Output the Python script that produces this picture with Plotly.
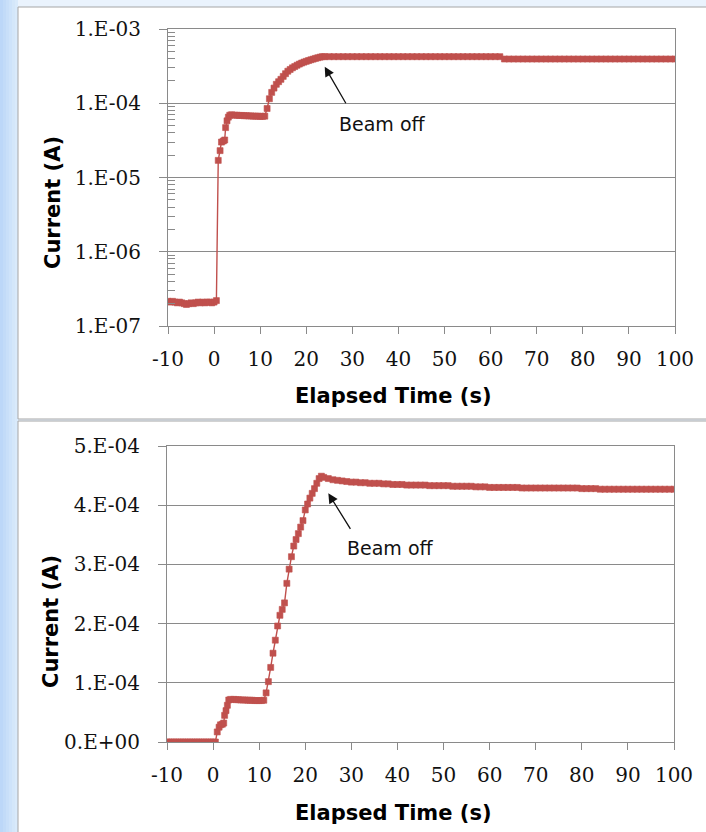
import plotly.graph_objects as go

# ---------------------------------------------------------------- data
time_s = [
    -10, -9.5, -9, -8.5, -8, -7.5, -7, -6.5, -6, -5.5, -5, -4.5, -4, -3.5, -3,
    -2.5, -2, -1.5, -1, -0.5, 0, 0.5,
    0.9, 1.3, 1.6, 2.0, 2.3, 2.5, 2.8, 3.1, 3.4, 3.8,
    4.5, 5, 5.5, 6, 6.5, 7, 7.5, 8, 8.5, 9, 9.5, 10, 10.5, 11,
    11.5, 12, 12.5, 13, 13.5, 14, 14.5, 15, 15.5, 16, 16.5, 17, 17.5, 18,
    18.5, 19, 19.5, 20, 20.5, 21, 21.5, 22, 22.5, 23, 23.5,
    24, 25, 26, 27, 28, 29, 30, 31, 32, 33, 34, 35, 36, 37, 38, 39, 40,
    41, 42, 43, 44, 45, 46, 47, 48, 49, 50, 51, 52, 53, 54, 55, 56, 57,
    58, 59, 60, 61, 62, 63, 64, 65, 66, 67, 68, 69, 70, 71, 72, 73, 74,
    75, 76, 77, 78, 79, 80, 81, 82, 83, 84, 85, 86, 87, 88, 89, 90, 91,
    92, 93, 94, 95, 96, 97, 98, 99, 100,
]

# current on the logarithmic panel (A)
current_log_A = [
    2.15e-7, 2.1e-7, 2.15e-7, 2.1e-7, 2.05e-7, 2.1e-7, 2.05e-7, 2.0e-7,
    1.95e-7, 2.0e-7, 2.05e-7, 2.0e-7, 2.05e-7, 2.1e-7, 2.05e-7, 2.1e-7,
    2.05e-7, 2.1e-7, 2.1e-7, 2.05e-7, 2.1e-7, 2.2e-7,
    1.7e-5, 2.3e-5, 3.0e-5, 3.1e-5, 3.2e-5, 4.7e-5, 5.8e-5, 6.5e-5, 6.9e-5, 7.0e-5,
    6.9e-5, 6.9e-5, 6.85e-5, 6.85e-5, 6.8e-5, 6.8e-5, 6.75e-5, 6.75e-5,
    6.7e-5, 6.7e-5, 6.7e-5, 6.65e-5, 6.65e-5, 6.7e-5,
    8.5e-5, 1.15e-4, 1.4e-4, 1.6e-4, 1.8e-4, 1.95e-4, 2.1e-4, 2.3e-4, 2.5e-4,
    2.7e-4, 2.85e-4, 3.0e-4, 3.12e-4, 3.25e-4, 3.37e-4, 3.48e-4, 3.58e-4,
    3.67e-4, 3.76e-4, 3.85e-4, 3.93e-4, 4.02e-4, 4.1e-4, 4.18e-4, 4.24e-4,
    # 24 s .. 62 s
    4.24e-4, 4.24e-4, 4.24e-4, 4.24e-4, 4.24e-4, 4.24e-4, 4.24e-4, 4.24e-4,
    4.24e-4, 4.24e-4, 4.24e-4, 4.24e-4, 4.24e-4, 4.24e-4, 4.24e-4, 4.24e-4,
    4.24e-4, 4.24e-4, 4.24e-4, 4.24e-4, 4.24e-4, 4.24e-4, 4.24e-4, 4.24e-4,
    4.24e-4, 4.24e-4, 4.24e-4, 4.24e-4, 4.24e-4, 4.24e-4, 4.24e-4, 4.24e-4,
    4.24e-4, 4.24e-4, 4.24e-4, 4.24e-4, 4.24e-4, 4.24e-4, 4.24e-4,
    # 63 s .. 100 s
    3.94e-4, 3.94e-4, 3.94e-4, 3.94e-4, 3.94e-4, 3.94e-4, 3.94e-4, 3.94e-4,
    3.94e-4, 3.94e-4, 3.94e-4, 3.94e-4, 3.94e-4, 3.94e-4, 3.94e-4, 3.94e-4,
    3.94e-4, 3.94e-4, 3.94e-4, 3.94e-4, 3.94e-4, 3.94e-4, 3.94e-4, 3.94e-4,
    3.94e-4, 3.94e-4, 3.94e-4, 3.94e-4, 3.94e-4, 3.94e-4, 3.94e-4, 3.94e-4,
    3.94e-4, 3.94e-4, 3.94e-4, 3.94e-4, 3.94e-4, 3.94e-4,
]

# current on the linear panel (A)
current_lin_A = [
    0, 0, 0, 0, 0, 0, 0, 0, 0, 0, 0, 0, 0, 0, 0, 0, 0, 0, 0, 0, 0, 0,
    1.7e-5, 2.5e-5, 2.9e-5, 3.0e-5, 3.2e-5, 4.5e-5, 5.3e-5, 6.2e-5, 7.1e-5, 7.2e-5,
    7.2e-5, 7.15e-5, 7.15e-5, 7.1e-5, 7.1e-5, 7.1e-5, 7.05e-5, 7.05e-5,
    7.05e-5, 7.0e-5, 7.0e-5, 7.0e-5, 7.0e-5, 7.05e-5,
    8.3e-5, 1.02e-4, 1.26e-4, 1.5e-4, 1.72e-4, 1.96e-4, 2.14e-4, 2.24e-4,
    2.35e-4, 2.68e-4, 2.92e-4, 3.13e-4, 3.31e-4, 3.42e-4, 3.52e-4, 3.63e-4,
    3.74e-4, 3.92e-4, 4.02e-4, 4.12e-4, 4.2e-4, 4.28e-4, 4.37e-4, 4.45e-4, 4.49e-4,
    4.47e-4, 4.45e-4, 4.43e-4, 4.42e-4, 4.41e-4, 4.40e-4, 4.39e-4, 4.39e-4,
    4.38e-4, 4.38e-4, 4.37e-4, 4.37e-4, 4.37e-4, 4.36e-4, 4.36e-4, 4.35e-4,
    4.35e-4, 4.35e-4, 4.34e-4, 4.34e-4, 4.34e-4, 4.34e-4, 4.34e-4, 4.33e-4,
    4.33e-4, 4.33e-4, 4.33e-4, 4.33e-4, 4.32e-4, 4.32e-4, 4.32e-4, 4.32e-4,
    4.32e-4, 4.31e-4, 4.31e-4, 4.31e-4, 4.30e-4, 4.30e-4, 4.30e-4, 4.30e-4,
    4.30e-4, 4.30e-4, 4.30e-4, 4.29e-4, 4.29e-4, 4.29e-4, 4.29e-4, 4.29e-4,
    4.29e-4, 4.29e-4, 4.29e-4, 4.29e-4, 4.29e-4, 4.29e-4, 4.29e-4, 4.29e-4,
    4.28e-4, 4.28e-4, 4.28e-4, 4.28e-4, 4.27e-4,
    4.27e-4, 4.27e-4, 4.27e-4, 4.27e-4, 4.27e-4, 4.27e-4, 4.27e-4, 4.27e-4,
    4.27e-4, 4.27e-4, 4.27e-4, 4.27e-4, 4.27e-4, 4.27e-4, 4.27e-4, 4.27e-4,
]

x_tick_vals = [-10, 0, 10, 20, 30, 40, 50, 60, 70, 80, 90, 100]
x_tick_text = ["-10", "0", "10", "20", "30", "40", "50", "60", "70", "80", "90", "100"]

log_tick_vals = [1e-7, 1e-6, 1e-5, 1e-4, 1e-3]
log_tick_text = ["1.E-07", "1.E-06", "1.E-05", "1.E-04", "1.E-03"]

lin_tick_vals = [0, 1e-4, 2e-4, 3e-4, 4e-4, 5e-4]
lin_tick_text = ["0.E+00", "1.E-04", "2.E-04", "3.E-04", "4.E-04", "5.E-04"]

# ---------------------------------------------------------------- styling
W, H = 706, 832
RED = "#c0504d"
GRAY = "#8a8a8a"
TICK_FONT = dict(family="DejaVu Serif", size=20, color="#111111")
TITLE_FONT = dict(family="DejaVu Sans", size=21, color="#000000", weight="bold")
NOTE_FONT = dict(family="DejaVu Sans", size=19, color="#111111")


def px(xp):
    return xp / W


def py(yp):
    return 1 - yp / H


fig = go.Figure()

series_style = dict(
    mode="lines+markers",
    line=dict(color=RED, width=1.4),
    marker=dict(color=RED, size=6, symbol="square", line=dict(width=0.6, color=RED)),
    hoverinfo="skip",
)
fig.add_trace(go.Scatter(x=time_s, y=current_log_A, xaxis="x", yaxis="y", **series_style))
fig.add_trace(go.Scatter(x=time_s, y=current_lin_A, xaxis="x2", yaxis="y2", **series_style))

common_x = dict(
    range=[-10, 100],
    tickmode="array",
    tickvals=x_tick_vals,
    ticktext=x_tick_text,
    ticks="outside",
    ticklen=7,
    tickwidth=1,
    tickcolor=GRAY,
    showline=True,
    linecolor=GRAY,
    linewidth=1,
    mirror=True,
    showgrid=False,
    zeroline=False,
    tickfont=TICK_FONT,
    ticklabelstandoff=8,
    automargin=False,
    fixedrange=True,
)
common_y = dict(
    tickmode="array",
    ticks="outside",
    ticklen=8,
    tickwidth=1,
    tickcolor=GRAY,
    showline=True,
    linecolor=GRAY,
    linewidth=1,
    mirror=True,
    showgrid=True,
    gridcolor=GRAY,
    gridwidth=1,
    zeroline=False,
    tickfont=TICK_FONT,
    ticklabelstandoff=14,
    automargin=False,
    fixedrange=True,
)

minor_log_vals = [m * 10.0 ** e for e in range(-7, -3) for m in range(2, 10)]

fig.update_layout(
    width=W,
    height=H,
    margin=dict(l=0, r=0, t=0, b=0, pad=0),
    paper_bgcolor="#eaf3fd",
    plot_bgcolor="rgba(0,0,0,0)",
    showlegend=False,
    xaxis=dict(domain=[px(168), px(675)], anchor="y", **common_x),
    yaxis=dict(
        domain=[py(326), py(29)],
        anchor="x",
        type="log",
        range=[-7, -3],
        tickvals=log_tick_vals,
        ticktext=log_tick_text,
        minor=dict(
            tickmode="array",
            tickvals=minor_log_vals,
            ticks="inside",
            ticklen=7,
            tickcolor=GRAY,
            showgrid=False,
        ),
        **common_y,
    ),
    xaxis2=dict(domain=[px(167), px(674)], anchor="y2", **common_x),
    yaxis2=dict(
        domain=[py(742), py(446)],
        anchor="x2",
        range=[0, 5e-4],
        tickvals=lin_tick_vals,
        ticktext=lin_tick_text,
        **common_y,
    ),
)

# window backdrop: pale blue strip on the left fading to the right, two white chart panels
shapes = []
strip = ["#bcd7f8", "#c2dbf8", "#c8dff9", "#cee3fa", "#d4e7fa", "#d9eafb"]
for i, c in enumerate(strip):
    shapes.append(dict(type="rect", xref="paper", yref="paper", layer="below",
                       x0=px(i * 3), x1=px(i * 3 + 3), y0=0, y1=1,
                       fillcolor=c, line=dict(width=0)))
for top, bottom in [(7, 419), (421, 840)]:
    shapes.append(dict(type="rect", xref="paper", yref="paper", layer="below",
                       x0=px(18), x1=px(712), y0=py(bottom), y1=py(top),
                       fillcolor="#ffffff", line=dict(color="#a6a6a6", width=1)))
fig.update_layout(shapes=shapes)

# axis titles
annotations = [
    dict(text="Current (A)", x=px(53), y=py(203), textangle=-90),
    dict(text="Elapsed Time (s)", x=px(393), y=py(396)),
    dict(text="Current (A)", x=px(51), y=py(622), textangle=-90),
    dict(text="Elapsed Time (s)", x=px(393), y=py(813)),
]
for a in annotations:
    fig.add_annotation(xref="paper", yref="paper", showarrow=False,
                       xanchor="center", yanchor="middle", font=TITLE_FONT, **a)

# "Beam off" callouts with arrows
fig.add_annotation(xref="x", yref="y", x=24.0, y=-3.508, text="", showarrow=True,
                   arrowhead=2, arrowsize=1.5, arrowwidth=1.3, arrowcolor="#111111",
                   ax=22, ay=38, standoff=0)
fig.add_annotation(xref="x", yref="y", x=36.6, y=-4.279, text="Beam off",
                   showarrow=False, font=NOTE_FONT)
fig.add_annotation(xref="x2", yref="y2", x=25.0, y=4.2e-4, text="", showarrow=True,
                   arrowhead=2, arrowsize=1.5, arrowwidth=1.3, arrowcolor="#111111",
                   ax=23, ay=37, standoff=0)
fig.add_annotation(xref="x2", yref="y2", x=38.4, y=3.28e-4, text="Beam off",
                   showarrow=False, font=NOTE_FONT)

fig.write_html("out.html")
